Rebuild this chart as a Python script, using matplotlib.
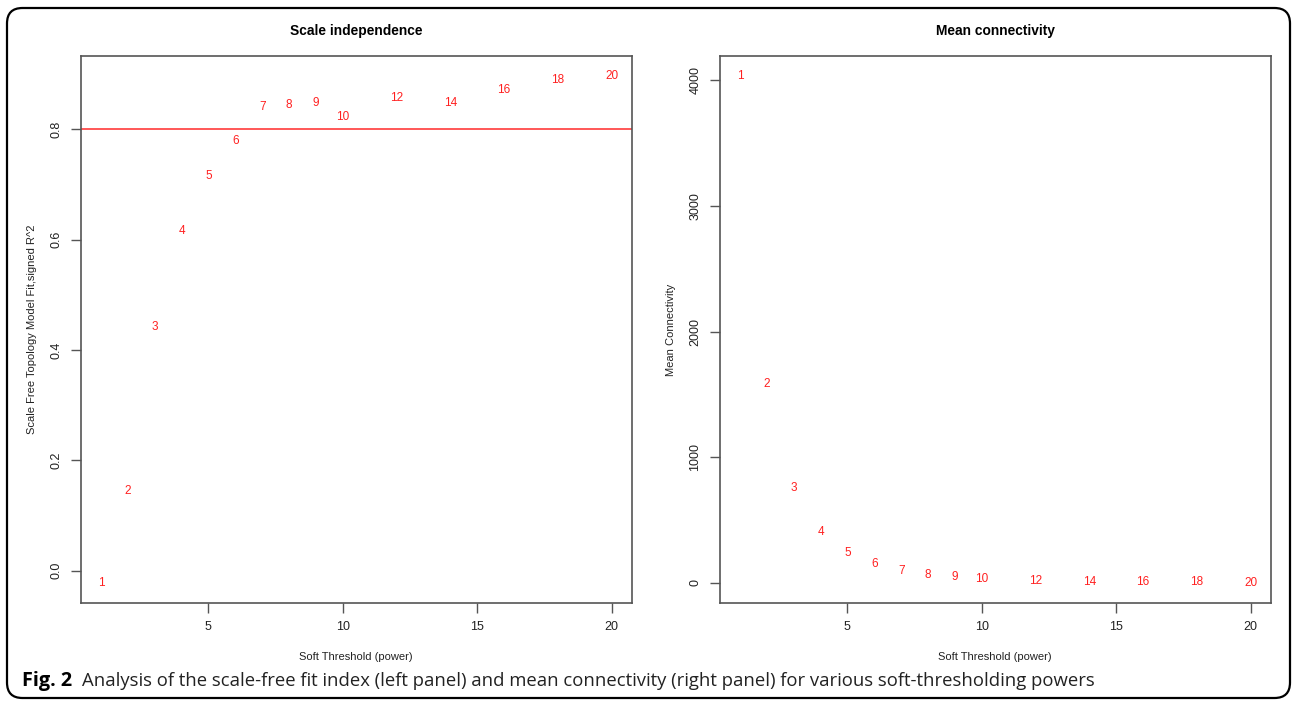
import matplotlib
matplotlib.use("Agg")
import matplotlib.pyplot as plt
from matplotlib.patches import FancyBboxPatch

powers = [1, 2, 3, 4, 5, 6, 7, 8, 9, 10, 12, 14, 16, 18, 20]
sft_r2 = [-0.022, 0.145, 0.441, 0.615, 0.715, 0.778, 0.840, 0.844, 0.847,
          0.822, 0.856, 0.847, 0.871, 0.889, 0.896]
mean_k = [4032, 1586, 757, 406, 239, 151, 96, 64, 48, 32, 16, 8, 7, 4, 2]
cutoff = 0.80
x_ticks = [5, 10, 15, 20]
y1_ticks = [0.0, 0.2, 0.4, 0.6, 0.8]
y2_ticks = [0, 1000, 2000, 3000, 4000]

W, H = 1292, 701
fig = plt.figure(figsize=(W / 100, H / 100), dpi=100)
fig.patch.set_facecolor("white")

FONT = ["Liberation Sans", "DejaVu Sans"]
axc = "#555555"


def rng(vals):
    lo, hi = min(vals), max(vals)
    d = (hi - lo) * 0.04
    return lo - d, hi + d


def style(ax, xl, yl, title, yticks, yfmt):
    for s in ax.spines.values():
        s.set_color(axc)
        s.set_linewidth(1.2)
    ax.set_xticks(x_ticks)
    ax.set_yticks(yticks)
    ax.set_xticklabels([str(t) for t in x_ticks], fontsize=9, family=FONT, color="#222222")
    ax.set_yticklabels([yfmt(t) for t in yticks], fontsize=9, family=FONT, color="#222222",
                       rotation=90, va="center")
    ax.tick_params(direction="out", length=7, width=1, color=axc, pad=6)
    ax.set_xlabel(xl, fontsize=8, family=FONT, labelpad=14, color="#222222")
    ax.set_ylabel(yl, fontsize=8, family=FONT, labelpad=10, color="#222222")
    ax.set_title(title, fontsize=9.9, family=FONT, fontweight="bold", pad=15)


# Left panel
ax1 = fig.add_axes([80.5 / W, 1 - 603 / H, (632 - 80.5) / W, (603 - 56) / H])
ax1.set_xlim(*rng(powers))
ax1.set_ylim(*rng(sft_r2))
ax1.axhline(cutoff, color="#ff3b3b", lw=1.2)
for p, v in zip(powers, sft_r2):
    ax1.text(p, v, str(p), color="#ff2020", fontsize=8.5, family=FONT, ha="center", va="center")
style(ax1, "Soft Threshold (power)", "Scale Free Topology Model Fit,signed R^2",
      "Scale independence", y1_ticks, lambda t: f"{t:.1f}")

# Right panel
ax2 = fig.add_axes([719.5 / W, 1 - 603 / H, (1271 - 719.5) / W, (603 - 56) / H])
ax2.set_xlim(*rng(powers))
ax2.set_ylim(*rng(mean_k))
for p, v in zip(powers, mean_k):
    ax2.text(p, v, str(p), color="#ff2020", fontsize=8.5, family=FONT, ha="center", va="center")
style(ax2, "Soft Threshold (power)", "Mean Connectivity",
      "Mean connectivity", y2_ticks, lambda t: f"{t:d}")

# Border
box = FancyBboxPatch((7 / W, 3 / H), (1290 - 7) / W, (693 - 3) / H,
                     boxstyle="round,pad=0,rounding_size=0.012",
                     transform=fig.transFigure, fill=False, ec="black", lw=1.6,
                     mutation_aspect=W / H)
fig.add_artist(box)

# Caption
cap_font = ["Open Sans", "DejaVu Sans"]
t1 = fig.text(22 / W, 1 - 681 / H, "Fig. 2", fontsize=14.3, fontweight="bold",
              family=cap_font, va="center", ha="left")
fig.text(82 / W, 1 - 681 / H,
         "Analysis of the scale-free fit index (left panel) and mean connectivity (right panel) for various soft-thresholding powers",
         fontsize=13.3, family=cap_font, va="center", ha="left", color="#222222")

fig.savefig("out.png", dpi=100)
